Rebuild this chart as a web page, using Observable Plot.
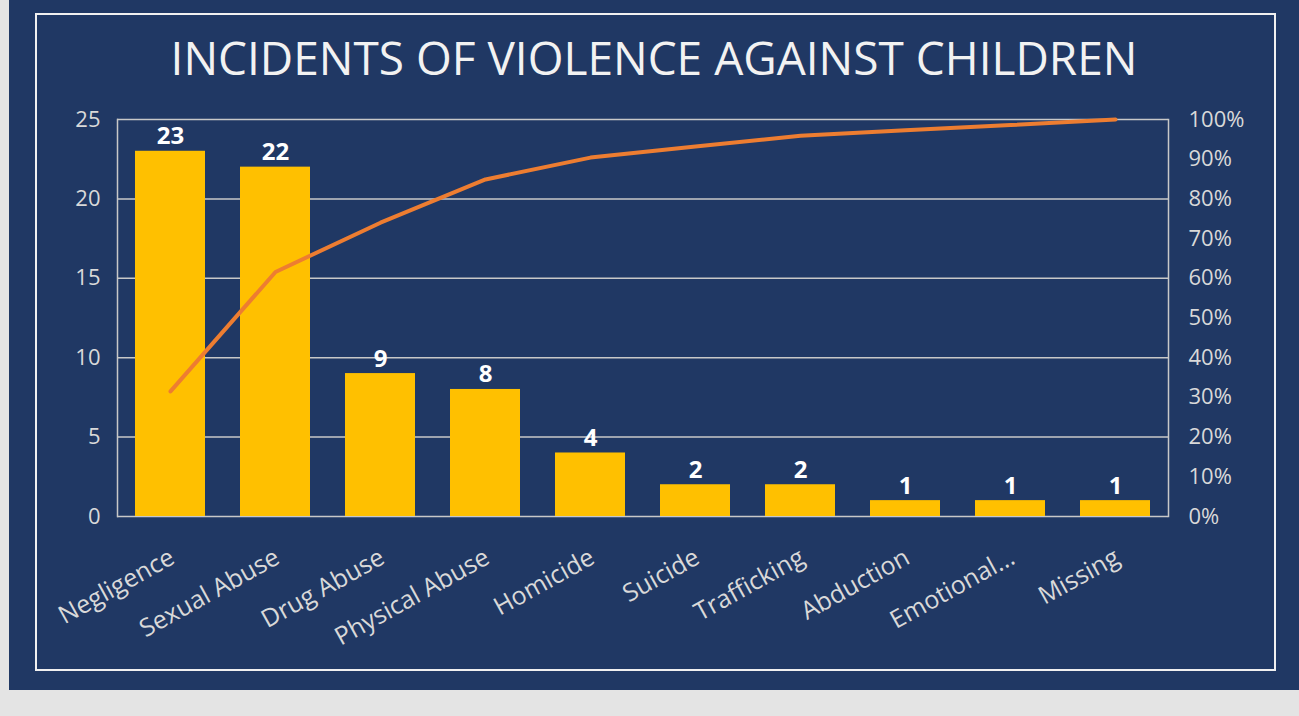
<!DOCTYPE html>
<html>
<head>
<meta charset="utf-8">
<script src="https://cdn.jsdelivr.net/npm/d3@7"></script>
<script src="https://cdn.jsdelivr.net/npm/@observablehq/plot@0.6"></script>
<style>
  html, body { margin: 0; padding: 0; background: #e4e4e4; width: 1299px; height: 716px; overflow: hidden; }
  #panel { position: absolute; left: 9px; top: 0; width: 1290px; height: 690px; background: #203864; }
  #border { position: absolute; left: 26px; top: 13px; width: 1237px; height: 654px; border: 2px solid #f0f0f0; }
  #title { position: absolute; left: 0; width: 1290px; top: 26px; text-align: center; color: #f2f2f2;
           font-family: "Open Sans", sans-serif; font-size: 46px; font-weight: 400; }
  #chart { position: absolute; left: 0; top: 90px; }
</style>
</head>
<body>
<div id="panel">
  <div id="border"></div>
  <div id="title">INCIDENTS OF VIOLENCE AGAINST CHILDREN</div>
  <div id="chart"></div>
</div>
<script>
const categories = ["Negligence", "Sexual Abuse", "Drug Abuse", "Physical Abuse", "Homicide", "Suicide", "Trafficking", "Abduction", "Emotional...", "Missing"];
const counts = [23, 22, 9, 8, 4, 2, 2, 1, 1, 1];
const cumulativePct = [31.5, 61.6, 74.0, 84.9, 90.4, 93.2, 95.9, 97.3, 98.6, 100];
const leftTicks = [0, 5, 10, 15, 20, 25];
const rightTicks = [0, 10, 20, 30, 40, 50, 60, 70, 80, 90, 100];

const rows = categories.map((c, i) => ({cat: c, n: counts[i], pct: cumulativePct[i]}));
const pctToY = p => p / 100 * 25;

const font = "Open Sans, sans-serif";
const chart = Plot.plot({
  width: 1290,
  height: 600,
  marginLeft: 108,
  marginRight: 131,
  marginTop: 29,
  marginBottom: 174,
  style: {background: "transparent", fontFamily: font, fontSize: "22px", color: "#d9d9d9"},
  x: {domain: categories, paddingInner: 0.333, paddingOuter: 0.167, label: null},
  y: {domain: [0, 25], label: null},
  marks: [
    Plot.ruleY(leftTicks, {stroke: "#c8c8c8", strokeWidth: 1.5}),
    Plot.frame({stroke: "#c8c8c8", strokeWidth: 1.5, anchor: "left"}),
    Plot.frame({stroke: "#c8c8c8", strokeWidth: 1.5, anchor: "right"}),
    Plot.barY(rows, {x: "cat", y: "n", fill: "#ffc000"}),
    Plot.text(rows, {x: "cat", y: "n", text: d => String(d.n), lineAnchor: "bottom", dy: -7,
      fill: "#ffffff", fontWeight: "bold", fontSize: 24}),
    Plot.line(rows, {x: "cat", y: d => pctToY(d.pct), stroke: "#ed7d31", strokeWidth: 4}),
    Plot.axisY(leftTicks, {anchor: "left", tickSize: 0, tickPadding: 17, fontSize: 22, fill: "#d9d9d9"}),
    Plot.axisY(rightTicks.map(pctToY), {anchor: "right", tickSize: 0, tickPadding: 20, fontSize: 22, fill: "#d9d9d9",
      tickFormat: d => Math.round(d / 25 * 100) + "%"}),
    Plot.axisX({anchor: "bottom", tickSize: 0, tickPadding: 39, tickRotate: -29, fontSize: 25, fill: "#d9d9d9", dx: 2})
  ]
});
document.getElementById("chart").appendChild(chart);
</script>
</body>
</html>
